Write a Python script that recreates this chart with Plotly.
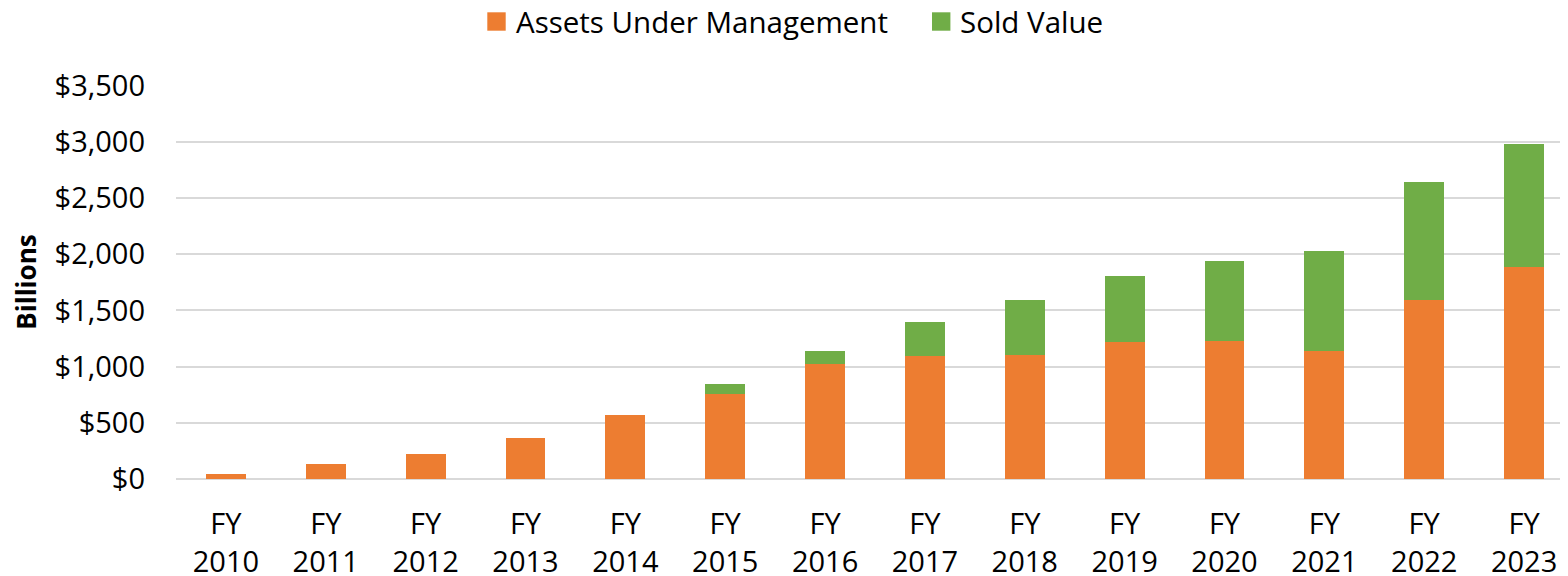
import plotly.graph_objects as go

categories = ["FY<br>2010", "FY<br>2011", "FY<br>2012", "FY<br>2013", "FY<br>2014", "FY<br>2015", "FY<br>2016",
              "FY<br>2017", "FY<br>2018", "FY<br>2019", "FY<br>2020", "FY<br>2021", "FY<br>2022", "FY<br>2023"]
aum = [42, 130, 219, 364, 565, 758, 1021, 1098, 1107, 1223, 1225, 1137, 1596, 1883]
sold = [0, 0, 0, 0, 0, 83, 116, 299, 489, 583, 714, 888, 1048, 1095]
y_ticks = [0, 500, 1000, 1500, 2000, 2500, 3000, 3500]
y_labels = ["$0", "$500", "$1,000", "$1,500", "$2,000", "$2,500", "$3,000", "$3,500"]
series_names = ["Assets Under Management", "Sold Value"]
colors = ["#ED7D31", "#70AD47"]

FONT = "Open Sans"

# figure geometry (page has an 8px body margin)
W, H = 1560, 568
ML, MT, MR, MB = 168, 77, 0, 97
PW, PH = W - ML - MR, H - MT - MB


def px_x(p):
    return (p - ML) / PW


def px_y(p):
    return 1 - (p - MT) / PH


fig = go.Figure()
for vals, name, col in zip([aum, sold], series_names, colors):
    fig.add_trace(go.Bar(x=categories, y=vals, name=name, showlegend=False,
                         marker=dict(color=col, line=dict(width=0))))

# legend drawn as squares + labels
legend_sq_left = [479.3, 924.0]
legend_txt_left = [506.0, 950.5]
sq_size = 18.4
for name, col, sx, tx in zip(series_names, colors, legend_sq_left, legend_txt_left):
    fig.add_shape(type="rect", xref="paper", yref="paper",
                  x0=px_x(sx), x1=px_x(sx + sq_size), y0=px_y(4.3 + sq_size), y1=px_y(4.3),
                  fillcolor=col, line=dict(width=0))
    fig.add_annotation(text=name, xref="paper", yref="paper", x=px_x(tx), y=px_y(13.5),
                       xanchor="left", yanchor="middle", showarrow=False,
                       font=dict(size=29.5, family=FONT, color="#000000"))

fig.update_layout(
    width=W, height=H,
    barmode="stack", bargap=0.6,
    plot_bgcolor="white", paper_bgcolor="white",
    margin=dict(l=ML, r=MR, t=MT, b=MB, autoexpand=False),
    font=dict(family=FONT, size=29, color="#000000"),
    showlegend=False,
)
fig.update_xaxes(range=[-0.5, 13.44], showgrid=False, showline=False, ticks="",
                 tickfont=dict(size=29), ticklabelstandoff=25, automargin=False)
fig.update_yaxes(range=[0, 3505], tickvals=y_ticks, ticktext=y_labels,
                 showgrid=True, gridcolor="#D9D9D9", gridwidth=2,
                 zeroline=True, zerolinecolor="#D9D9D9", zerolinewidth=2,
                 showline=False, ticks="", ticklabelstandoff=30, automargin=False,
                 tickfont=dict(size=29),
                 title=dict(text="<b>Billions</b>", font=dict(size=26), standoff=10))

fig.write_html("out.html")
